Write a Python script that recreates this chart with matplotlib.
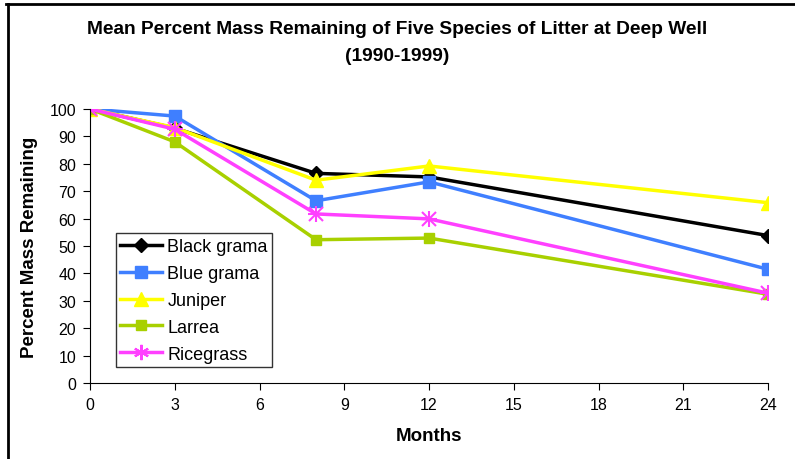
import matplotlib
matplotlib.use("Agg")
import matplotlib.pyplot as plt
from matplotlib.lines import Line2D

plt.rcParams['font.family'] = ['Liberation Sans', 'DejaVu Sans']

months = [0, 3, 8, 12, 24]
black_grama = [100, 93, 76.5, 75.2, 53.8]
blue_grama = [100, 97.4, 66.5, 73.4, 41.5]
juniper = [100, 93.2, 74.0, 79.2, 65.8]
larrea = [100, 88.0, 52.3, 52.9, 32.4]
ricegrass = [100, 92.6, 61.7, 59.9, 32.8]

series = [
    ('Black grama', black_grama, 'black', 'D', 7),
    ('Blue grama', blue_grama, '#3f7fff', 's', 9),
    ('Juniper', juniper, '#ffff00', '^', 10),
    ('Larrea', larrea, '#a8d000', 's', 7),
    ('Ricegrass', ricegrass, '#ff40ff', (6, 2, 0), 10),
]

fig = plt.figure(figsize=(7.95, 4.6), dpi=100)
ax = fig.add_axes([0.1132, 0.165, 0.853, 0.596])

for name, vals, col, mk, ms in series:
    if name == 'Ricegrass':
        ax.plot(months, vals, color=col, lw=2.5, label=name)
        ax.plot(months, vals, ls='none', marker='x', color=col, ms=ms, mew=1.5)
        ax.plot(months, vals, ls='none', marker='+', color=col, ms=ms + 2, mew=1.5)
    else:
        ax.plot(months, vals, color=col, lw=2.5, marker=mk, ms=ms,
                mec=col, mfc=col, label=name)

ax.set_xlim(0, 24)
ax.set_ylim(0, 100)
ax.set_xticks(range(0, 25, 3))
ax.set_yticks(range(0, 101, 10))
ax.spines['top'].set_visible(False)
ax.spines['right'].set_visible(False)
ax.tick_params(direction='out', length=5, labelsize=11.5, pad=5)

ax.set_xlabel('Months', fontsize=13.5, fontweight='bold', labelpad=11)
ax.set_ylabel('Percent Mass Remaining', fontsize=13.5, fontweight='bold', labelpad=8)

fig.text(0.5, 0.935, 'Mean Percent Mass Remaining of Five Species of Litter at Deep Well',
         ha='center', va='center', fontsize=13.8, fontweight='bold')
fig.text(0.5, 0.877, '(1990-1999)', ha='center', va='center', fontsize=13.8,
         fontweight='bold')

# legend handles (ricegrass as asterisk)
handles = []
for name, vals, col, mk, ms in series:
    if name == 'Ricegrass':
        handles.append(Line2D([], [], color=col, lw=2.5, marker=(6, 2, 0),
                              ms=11, mew=1.5, label=name))
    else:
        handles.append(Line2D([], [], color=col, lw=2.5, marker=mk, ms=ms,
                              mec=col, mfc=col, label=name))
leg = ax.legend(handles=handles, loc='lower left', bbox_to_anchor=(0.038, 0.058),
                fontsize=13, frameon=True, fancybox=False, edgecolor='black',
                handlelength=2.3, handletextpad=0.3, borderpad=0.25,
                labelspacing=0.55, borderaxespad=0)
leg.get_frame().set_linewidth(1.0)

# outer border lines (top and left)
fig.add_artist(Line2D([6 / 795, 1], [1 - 5 / 460, 1 - 5 / 460], color='black',
                      lw=2, transform=fig.transFigure))
fig.add_artist(Line2D([8 / 795, 8 / 795], [0, 1 - 5 / 460], color='black',
                      lw=2, transform=fig.transFigure))

fig.savefig('out.png', dpi=100)
